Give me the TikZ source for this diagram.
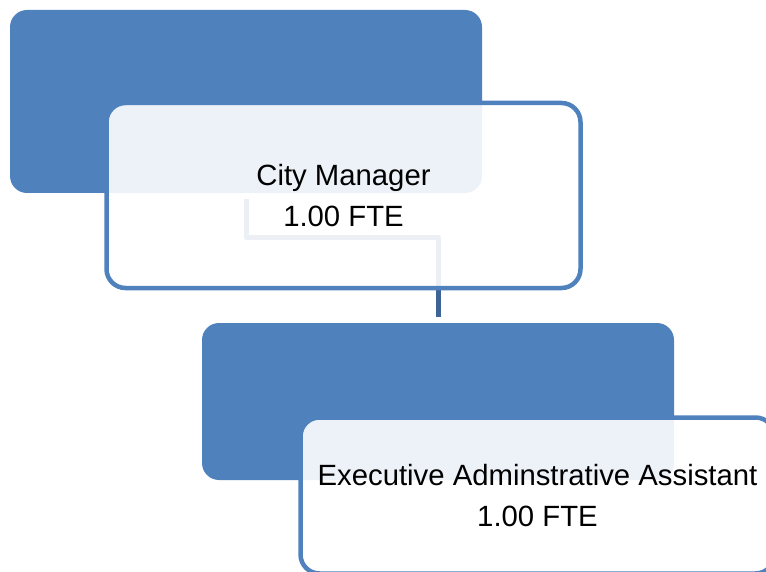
\documentclass[tikz,border=0pt]{standalone}
\usepackage{fontspec}
\setmainfont{Liberation Sans}
\definecolor{accent}{RGB}{79,129,189}
\definecolor{linkblue}{RGB}{62,100,150}
\begin{document}
\begin{tikzpicture}[x=1pt,y=-1pt,
  backbox/.style={fill=accent, rounded corners=17pt, inner sep=0pt,
    minimum width=472pt},
  textbox/.style={draw=accent, line width=4.5pt, fill=white, fill opacity=0.9,
    text opacity=1, rounded corners=19pt, inner sep=0pt,
    minimum width=474pt, align=center, text=black,
    font=\fontsize{29.3}{41}\selectfont},
  conn/.style={draw=linkblue, line width=5pt, line join=round}]
\useasboundingbox (0,0) rectangle (766,572);
\clip (0,0) rectangle (766,572);
% back panels
\node[backbox, minimum height=183pt] (b1) at (246,101.5) {};
\node[backbox, minimum height=157pt] (b2) at (438,401.5) {};
% link from the first position down to the second
\draw[conn] ([yshift=-6pt]b1.south) -- ++(0,38) -| ([yshift=6pt]b2.north);
% front panels with the titles
\node[textbox, minimum height=185pt] (t1) at (343.5,195.5) {City Manager\\1.00 FTE};
\node[textbox, minimum height=156pt] (t2) at (537.5,495.5) {Executive Adminstrative Assistant\\1.00 FTE};
\end{tikzpicture}
\end{document}
